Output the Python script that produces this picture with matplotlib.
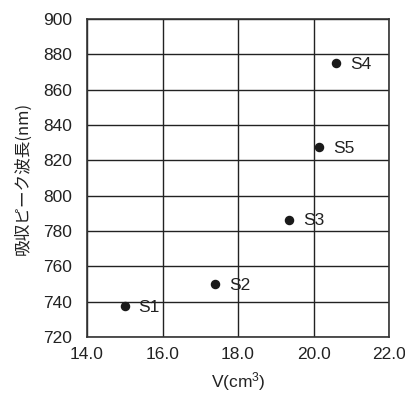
import matplotlib
matplotlib.use("Agg")
import matplotlib.pyplot as plt

# サンプルのデータ
names = ["S1", "S2", "S3", "S4", "S5"]
volume = [15.0, 17.4, 19.35, 20.6, 20.15]
peak_nm = [737.5, 750.0, 786.5, 875.0, 827.5]

x_ticks = [14.0, 16.0, 18.0, 20.0, 22.0]
y_ticks = [720, 740, 760, 780, 800, 820, 840, 860, 880, 900]

plt.rcParams["font.family"] = ["Liberation Sans", "Noto Sans CJK JP", "DejaVu Sans"]
plt.rcParams["mathtext.fontset"] = "custom"
plt.rcParams["mathtext.rm"] = "Liberation Sans"
plt.rcParams["mathtext.it"] = "Liberation Sans"

fig = plt.figure(figsize=(4.06, 3.93), dpi=100)
ax = fig.add_axes([87 / 406, 1 - 337 / 393, 302 / 406, 318 / 393])

ax.scatter(volume, peak_nm, s=34, color="#1a1a1a", zorder=3)
for n, x, y in zip(names, volume, peak_nm):
    ax.annotate(n, (x, y), xytext=(10, -1), textcoords="offset points",
                va="center", ha="left", fontsize=12.5, color="#222222")

ax.set_xlim(14, 22)
ax.set_ylim(720, 900)
ax.set_xticks(x_ticks)
ax.set_xticklabels([f"{t:.1f}" for t in x_ticks])
ax.set_yticks(y_ticks)
ax.grid(True, color="#222222", linewidth=1.0)
ax.set_axisbelow(True)
ax.tick_params(length=0, labelsize=12.5, colors="#222222")
ax.tick_params(axis="x", pad=7)
ax.tick_params(axis="y", pad=11)
for sp in ax.spines.values():
    sp.set_color("#333333")
    sp.set_linewidth(1.2)

ax.set_xlabel("V(cm$^3$)", fontsize=12.5, color="#222222", labelpad=6)
ax.set_ylabel("吸収ピーク波長(nm)", fontsize=12, color="#222222",
              family=["Noto Sans CJK JP", "Liberation Sans"], labelpad=8)

fig.savefig("out.png", dpi=100)
